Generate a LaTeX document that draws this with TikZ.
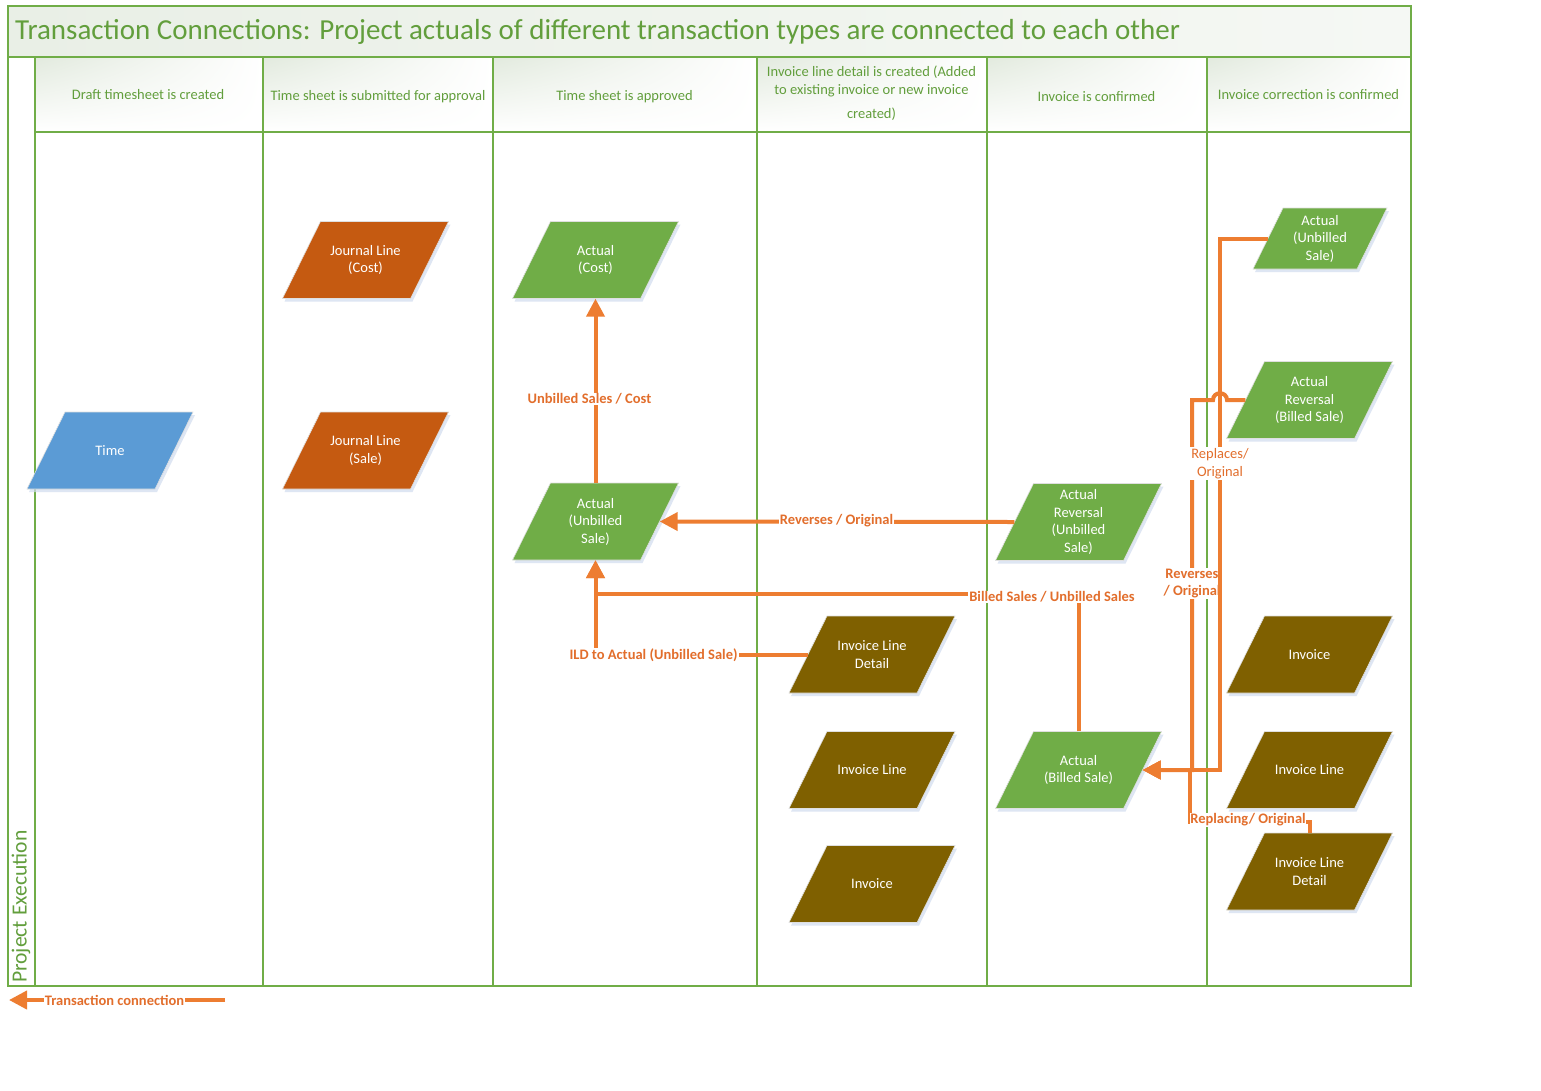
\documentclass[tikz,border=0pt]{standalone}
\usepackage{fontspec}
\setmainfont{Carlito}
\usetikzlibrary{arrows.meta,calc,shadings}
\definecolor{lanegreen}{RGB}{112,173,71}
\definecolor{titlegreen}{RGB}{98,158,60}
\definecolor{actgreen}{RGB}{112,173,71}
\definecolor{jrnorange}{RGB}{197,90,17}
\definecolor{timeblue}{RGB}{91,155,213}
\definecolor{invbrown}{RGB}{127,96,0}
\definecolor{conn}{RGB}{237,125,49}
\definecolor{connlabel}{RGB}{226,110,44}
\definecolor{hdrshade}{RGB}{226,234,222}
\definecolor{titleshadeA}{RGB}{233,239,230}
\definecolor{titleshadeB}{RGB}{245,248,244}
\definecolor{shadowc}{RGB}{208,220,238}
\tikzset{
 lane/.style={draw=lanegreen, line width=1.5pt},
 hdrtext/.style={text=titlegreen, font=\fontsize{14.5}{17.5}\selectfont, align=center, inner sep=0pt},
 pgtext/.style={rectangle, inner sep=0pt, text=white, align=center, font=\fontsize{14.5}{17.5}\selectfont},
 connector/.style={draw=conn, line width=4pt},
 conarrow/.style={connector, -{Triangle[length=18pt,width=18pt]}},
 clabel/.style={fill=white, inner sep=1pt, text=connlabel, font=\bfseries\fontsize{14.5}{17.5}\selectfont, align=center},
 clabelreg/.style={clabel, font=\fontsize{14.5}{17.5}\selectfont},
}
% #1 name, #2 x, #3 y, #4 colour, #5 text, #6 body width, #7 slant, #8 height
\newcommand\pgram[8]{%
 \begin{scope}[shift={(#2,#3)}]
  \fill[shadowc, opacity=0.7] ({-(#6+#7)/2+2},{#8/2+3}) -- ++(#6,0) -- ++(#7,-#8) -- ++(-#6,0) -- cycle;
  \filldraw[fill=#4, draw=white!75!gray, line width=0.6pt] ({-(#6+#7)/2},{#8/2}) -- ++(#6,0) -- ++(#7,-#8) -- ++(-#6,0) -- cycle;
 \end{scope}
 \node[pgtext, minimum width=#6pt, minimum height=#8pt] (#1) at (#2,#3) {#5};
}
\begin{document}
\begin{tikzpicture}[x=1pt,y=-1pt]
\fill[white] (0,0) rectangle (1541,1090);
\useasboundingbox (0,0) rectangle (1541,1090);
% title band
\shade[left color=titleshadeA, right color=titleshadeB] (8,6) rectangle (1411,57);
\node[anchor=west, text=titlegreen, font=\fontsize{29}{34}\selectfont, inner sep=0pt] (title) at (15,32) {Transaction Connections: Project actuals of different transaction types are connected to each other};
% header cells
\foreach \a/\b in {35/263,263/493,493/757,757/987,987/1207,1207/1411}
  \shade[upper left=hdrshade, upper right=white, lower left=white, lower right=white] (\a,57) rectangle (\b,132);
% lane frame
\draw[lane] (8,6) rectangle (1411,986);
\draw[lane] (8,57) -- (1411,57);
\draw[lane] (35,132) -- (1411,132);
\foreach \x in {35,263,493,757,987,1207} \draw[lane] (\x,57) -- (\x,986);
\node[rotate=90, anchor=west, text=titlegreen, font=\fontsize{21.6}{25}\selectfont, inner sep=0pt] (lanelabel) at (21,983) {Project Execution};
% headers
\node[hdrtext] (h1) at (148,95) {Draft timesheet is created};
\node[hdrtext] (h2) at (378,97) {Time sheet is submitted for approval};
\node[hdrtext] (h3) at (624.5,97) {Time sheet is approved};
\node[hdrtext, anchor=north] (h4) at (871.5,66) {Invoice line detail is created (Added\\to existing invoice or new invoice\\[6.5pt]created)};
\node[hdrtext] (h5) at (1096.5,97) {Invoice is confirmed};
\node[hdrtext] (h6) at (1308.5,95) {Invoice correction is confirmed};
% shapes
\pgram{time}{110}{450.5}{timeblue}{Time}{128}{38}{77}
\pgram{jcost}{365.5}{260}{jrnorange}{Journal Line\\(Cost)}{128}{38}{77}
\pgram{jsale}{365.5}{450.5}{jrnorange}{Journal Line\\(Sale)}{128}{38}{77}
\pgram{acost}{595.5}{260}{actgreen}{Actual\\(Cost)}{128}{38}{77}
\pgram{aus}{595.5}{521.5}{actgreen}{Actual\\(Unbilled\\Sale)}{128}{38}{77}
\pgram{ildA}{872}{654.5}{invbrown}{Invoice Line\\Detail}{128}{38}{77}
\pgram{ilA}{872}{770}{invbrown}{Invoice Line}{128}{38}{77}
\pgram{invA}{872}{884}{invbrown}{Invoice}{128}{38}{77}
\pgram{arus}{1078.5}{522}{actgreen}{Actual\\Reversal\\(Unbilled\\Sale)}{128}{38}{77}
\pgram{abill}{1078.5}{770}{actgreen}{Actual\\(Billed Sale)}{128}{38}{77}
\pgram{ru}{1320}{238.5}{actgreen}{Actual\\(Unbilled\\Sale)}{104}{30}{61}
\pgram{rb}{1309.5}{400}{actgreen}{Actual\\Reversal\\(Billed Sale)}{128}{38}{77}
\pgram{invB}{1309.5}{654.5}{invbrown}{Invoice}{128}{38}{77}
\pgram{ilB}{1309.5}{770}{invbrown}{Invoice Line}{128}{38}{77}
\pgram{ildB}{1309.5}{871.5}{invbrown}{Invoice Line\\Detail}{128}{38}{77}
% connectors, left part
\draw[conarrow] (aus.north) -- (acost.south);
\node[clabel] (lusc) at (589.5,399) {Unbilled Sales / Cost};
\draw[conarrow] (arus.west) -- (aus.east);
\node[clabel] (lro) at (836.5,521) {Reverses / Original};
\coordinate (bsy) at (0,594);
\draw[conarrow] (abill.north) -- (abill.north |- bsy) -| (aus.south);
\draw[conarrow] (ildA.west) -| (aus.south);
\node[clabel] (lbs) at (1052,597) {Billed Sales / Unbilled Sales};
\node[clabel] (lild) at (653.5,655) {ILD to Actual (Unbilled Sale)};
% connectors, right part
\coordinate (cpl) at (1190,822);
\draw[conarrow] (ildB.north) |- (cpl) |- (abill.east);
\coordinate (crv) at (1192,400);
\draw[conarrow] (rb.west) -- (1227,400) .. controls (1227,391) and (1213,391) .. (1213,400) -- (crv) |- (abill.east);
\begin{scope}
 \clip (1150,560) rectangle (1218.5,608);
 \node[clabel] (lrv) at (1192,583.5) {Reverses\\/ Original};
\end{scope}
\coordinate (xrp) at (1220,0);
\draw[conarrow] (ru.west) -- (ru.west -| xrp) |- (abill.east);
\node[clabelreg] (lrp) at (1220,463.5) {Replaces/\\Original};
\node[clabel, inner xsep=0pt] (lrpl) at (1248,820) {Replacing/ Original};
% legend
\coordinate (lgs) at (225,1000);
\coordinate (lge) at (9,1000);
\draw[conarrow] (lgs) -- (lge);
\node[clabel] (lg) at (114.5,1000) {Transaction connection};
\end{tikzpicture}
\end{document}
